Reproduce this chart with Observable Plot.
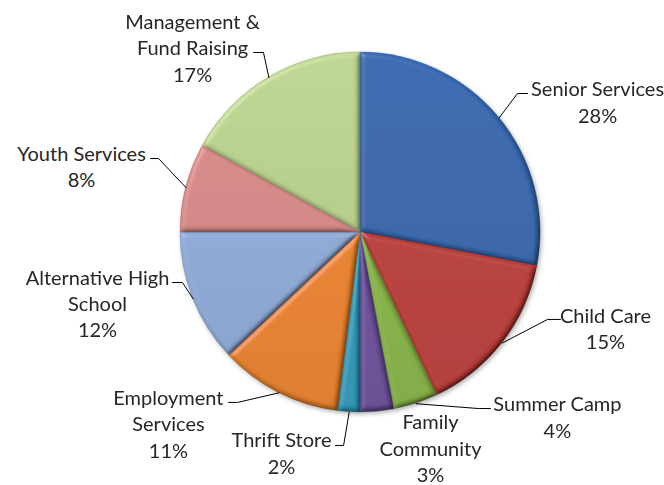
<!DOCTYPE html>
<html>
<head>
<meta charset="utf-8">
<script src="https://cdn.jsdelivr.net/npm/d3@7"></script>
<script src="https://cdn.jsdelivr.net/npm/@observablehq/plot@0.6"></script>
<style>
  body { margin: 0; background: #ffffff; }
  #chart svg { display: block; }
</style>
</head>
<body>
<div id="chart"></div>
<script>
// ---- data ----
const categories = ["Senior Services", "Child Care", "Summer Camp", "Family Community", "Thrift Store",
  "Employment Services", "Alternative High School", "Youth Services", "Management & Fund Raising"];
const shares = [28, 15, 4, 3, 2, 11, 12, 8, 17];
const labelLines = [["Senior Services"], ["Child Care"], ["Summer Camp"], ["Family", "Community"], ["Thrift Store"],
  ["Employment", "Services"], ["Alternative High", "School"], ["Youth Services"], ["Management &", "Fund Raising"]];
const colors = ["#3465aa", "#bb3b36", "#88b546", "#6d4f9c", "#2a9cbd", "#ec8327", "#8fabd8", "#d38785", "#b6ce8b"];

// ---- label layout (in pie-radius units, centre = 0,0) ----
const labelLayout = [
  {x: 1.317, y: 0.731, elbow: [0.872, 0.772], end: 0.928},
  {x: 1.361, y: -0.528, elbow: [1.039, -0.483], end: 1.111},
  {x: 1.094, y: -1.019, elbow: [0.656, -0.978], end: 0.722},
  {x: 0.389, y: -1.192, elbow: null, end: null},
  {x: -0.439, y: -1.219, elbow: [-0.094, -1.183], end: -0.139},
  {x: -1.067, y: -1.058, elbow: [-0.683, -0.944], end: -0.733},
  {x: -1.461, y: -0.389, elbow: [-0.989, -0.278], end: -1.044},
  {x: -1.55, y: 0.372, elbow: [-1.122, 0.411], end: -1.167},
  {x: -0.933, y: 1.031, elbow: [-0.539, 1.0], end: -0.594}
];

const arcs = d3.pie().sort(null).value(d => d)(shares);
const mid = arcs.map(a => (a.startAngle + a.endAngle) / 2);

const labelData = categories.map((c, i) => ({
  name: c,
  text: [...labelLines[i], shares[i] + "%"].join("\n"),
  x: labelLayout[i].x,
  y: labelLayout[i].y
}));

const leaderData = [];
categories.forEach((c, i) => {
  const L = labelLayout[i];
  if (!L.elbow) return;
  leaderData.push({name: c, x: Math.sin(mid[i]), y: Math.cos(mid[i])});
  leaderData.push({name: c, x: L.elbow[0], y: L.elbow[1]});
  leaderData.push({name: c, x: L.end, y: L.elbow[1]});
});

function pieSlices(index, scales) {
  const cx = scales.x(0), cy = scales.y(0);
  const r = scales.x(1) - scales.x(0);
  const g = d3.create("svg:g");
  const defs = g.append("defs");
  const f = defs.append("filter").attr("id", "bevel")
    .attr("x", "-10%").attr("y", "-10%").attr("width", "120%").attr("height", "120%");
  f.append("feGaussianBlur").attr("in", "SourceAlpha").attr("stdDeviation", 2.5).attr("result", "blur");
  f.append("feDiffuseLighting").attr("in", "blur").attr("surfaceScale", 3).attr("diffuseConstant", 1.25)
    .attr("lighting-color", "#ffffff").attr("result", "diff")
    .append("feDistantLight").attr("azimuth", 225).attr("elevation", 52);
  f.append("feSpecularLighting").attr("in", "blur").attr("surfaceScale", 3).attr("specularConstant", 0.5)
    .attr("specularExponent", 24).attr("lighting-color", "#ffffff").attr("result", "spec")
    .append("feDistantLight").attr("azimuth", 225).attr("elevation", 40);
  f.append("feComposite").attr("in", "spec").attr("in2", "SourceAlpha").attr("operator", "in").attr("result", "spec2");
  f.append("feComposite").attr("in", "SourceGraphic").attr("in2", "diff").attr("operator", "arithmetic")
    .attr("k1", 1).attr("k2", 0).attr("k3", 0).attr("k4", 0).attr("result", "lit");
  f.append("feComposite").attr("in", "lit").attr("in2", "spec2").attr("operator", "arithmetic")
    .attr("k1", 0).attr("k2", 1).attr("k3", 0.3).attr("k4", 0);

  const sh = defs.append("filter").attr("id", "pieShadow")
    .attr("x", "-10%").attr("y", "-10%").attr("width", "120%").attr("height", "120%");
  sh.append("feDropShadow").attr("dx", 1.5).attr("dy", 2).attr("stdDeviation", 2)
    .attr("flood-color", "#000").attr("flood-opacity", 0.3);

  colors.forEach((col, i) => {
    const c = d3.color(col);
    const lg = defs.append("linearGradient").attr("id", "grad" + i)
      .attr("gradientUnits", "userSpaceOnUse")
      .attr("x1", 0).attr("y1", -r).attr("x2", 0).attr("y2", r);
    lg.append("stop").attr("offset", "0%").attr("stop-color", c.brighter(0.12).formatHex());
    lg.append("stop").attr("offset", "100%").attr("stop-color", c.darker(0.18).formatHex());
  });

  const arcGen = d3.arc().innerRadius(0).outerRadius(r);
  const pg = g.append("g").attr("transform", `translate(${cx},${cy})`).attr("filter", "url(#pieShadow)");
  arcs.forEach((a, i) => {
    pg.append("path")
      .attr("d", arcGen(a))
      .attr("fill", `url(#grad${i})`)
      .attr("stroke", d3.color(colors[i]).darker(0.9).formatHex())
      .attr("stroke-width", 0.7)
      .attr("stroke-opacity", 0.6)
      .attr("filter", "url(#bevel)")
      .append("title").text(`${categories[i]}: ${shares[i]}%`);
  });
  return g.node();
}

const chart = Plot.plot({
  width: 664,
  height: 485,
  margin: 0,
  x: {domain: [-1, 1], range: [180, 540], axis: null},
  y: {domain: [-1, 1], range: [412, 52], axis: null},
  style: {background: "#ffffff"},
  marks: [
    pieSlices,
    Plot.line(leaderData, {x: "x", y: "y", z: "name", stroke: "#000000", strokeWidth: 1}),
    Plot.text(labelData, {
      x: "x", y: "y", text: "text",
      fontSize: 20, lineHeight: 1.32, fill: "#262626",
      fontFamily: "Lato, 'Open Sans', sans-serif",
      textAnchor: "middle", lineAnchor: "middle"
    })
  ]
});
document.getElementById("chart").append(chart);
</script>
</body>
</html>
